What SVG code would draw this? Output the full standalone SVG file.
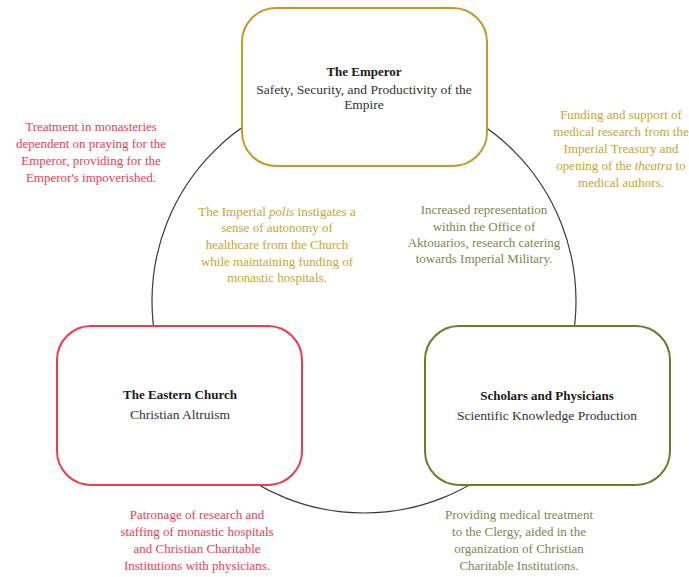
<svg xmlns="http://www.w3.org/2000/svg" width="689" height="577" viewBox="0 0 689 577">
  <style>
    text { font-family: "Liberation Serif", "DejaVu Serif", serif; font-size: 13px; text-anchor: middle; }
    .title { font-weight: bold; fill: #1a1a1a; font-size: 13px; }
    .sub { fill: #333333; font-size: 13.5px; }
    .box { fill: #ffffff; stroke-width: 2; }
    .red { fill: #ea3e55; }
    .gold { fill: #c9a52e; }
    .olive { fill: #7d8650; }
  </style>

  <!-- cycle connecting the three parties -->
  <g id="connectors">
    <circle cx="364" cy="301" r="212" fill="none" stroke="#3a3a3a" stroke-width="1.2"/>
  </g>

  <g id="emperor">
    <rect class="box" x="242" y="8" width="245" height="158" rx="34" stroke="#c49a2c"/>
    <text class="title" x="364" y="76">The Emperor</text>
    <text class="sub" x="364" y="94">Safety, Security, and Productivity of the</text>
    <text class="sub" x="364" y="109">Empire</text>
  </g>

  <g id="church">
    <rect class="box" x="57" y="326" width="245" height="159" rx="34" stroke="#ee3a4c"/>
    <text class="title" x="180" y="399">The Eastern Church</text>
    <text class="sub" x="180" y="419">Christian Altruism</text>
  </g>

  <g id="scholars">
    <rect class="box" x="425" y="326" width="245" height="159" rx="34" stroke="#6e7a2c"/>
    <text class="title" x="547" y="400">Scholars and Physicians</text>
    <text class="sub" x="547" y="420">Scientific Knowledge Production</text>
  </g>

  <!-- relationship notes -->
  <g id="note-church-emperor" class="red">
    <text x="91" y="131">Treatment in monasteries</text>
    <text x="91" y="148">dependent on praying for the</text>
    <text x="91" y="165">Emperor, providing for the</text>
    <text x="91" y="182">Emperor's impoverished.</text>
  </g>

  <g id="note-emperor-scholars" class="gold">
    <text x="621" y="119">Funding and support of</text>
    <text x="621" y="136">medical research from the</text>
    <text x="621" y="153">Imperial Treasury and</text>
    <text x="621" y="170">opening of the <tspan font-style="italic">theatra</tspan> to</text>
    <text x="621" y="187">medical authors.</text>
  </g>

  <g id="note-emperor-church" class="gold">
    <text x="277" y="216">The Imperial <tspan font-style="italic">polis</tspan> instigates a</text>
    <text x="277" y="232">sense of autonomy of</text>
    <text x="277" y="249">healthcare from the Church</text>
    <text x="277" y="266">while maintaining funding of</text>
    <text x="277" y="282">monastic hospitals.</text>
  </g>

  <g id="note-scholars-emperor" class="olive">
    <text x="484" y="214">Increased representation</text>
    <text x="484" y="231">within the Office of</text>
    <text x="484" y="247">Aktouarios, research catering</text>
    <text x="484" y="263">towards Imperial Military.</text>
  </g>

  <g id="note-church-scholars" class="red">
    <text x="197" y="519">Patronage of research and</text>
    <text x="197" y="536">staffing of monastic hospitals</text>
    <text x="197" y="553">and Christian Charitable</text>
    <text x="197" y="570">Institutions with physicians.</text>
  </g>

  <g id="note-scholars-church" class="olive">
    <text x="519" y="519">Providing medical treatment</text>
    <text x="519" y="536">to the Clergy, aided in the</text>
    <text x="519" y="553">organization of Christian</text>
    <text x="519" y="570">Charitable Institutions.</text>
  </g>
</svg>
